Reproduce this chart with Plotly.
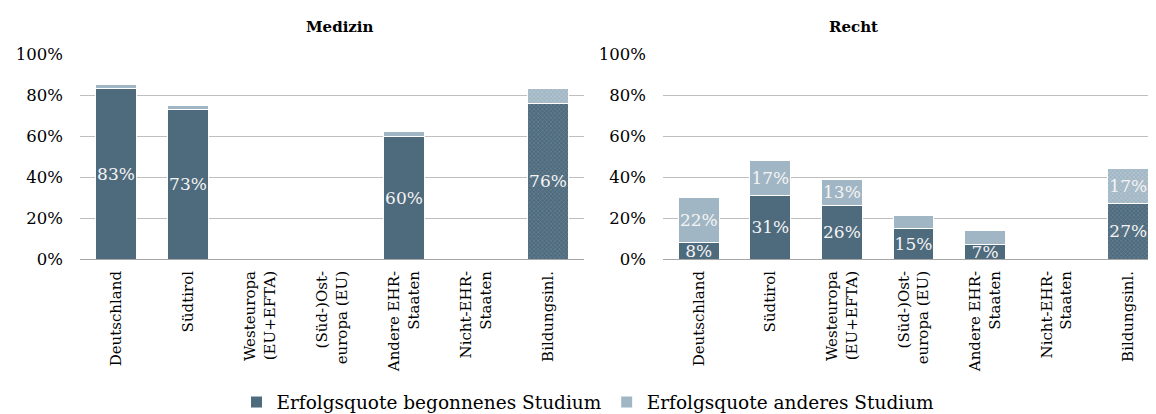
import plotly.graph_objects as go

categories = ["Deutschland", "Südtirol", "Westeuropa<br>(EU+EFTA)", "(Süd-)Ost-<br>europa (EU)",
              "Andere EHR-<br>Staaten", "Nicht-EHR-<br>Staaten", "Bildungsinl."]
med_begonnen = [83, 73, 0, 0, 60, 0, 76]
med_anderes = [2, 2, 0, 0, 2, 0, 7]
recht_begonnen = [8, 31, 26, 15, 7, 0, 27]
recht_anderes = [22, 17, 13, 6, 7, 0, 17]
med_beg_labels = ["83%", "73%", "", "", "60%", "", "76%"]
med_and_labels = ["", "", "", "", "", "", ""]
recht_beg_labels = ["8%", "31%", "26%", "15%", "7%", "", "27%"]
recht_and_labels = ["22%", "17%", "13%", "", "", "", "17%"]
y_ticks = [0, 20, 40, 60, 80, 100]

DARK = "#4e6a7d"
LIGHT = "#a1b6c4"
SERIF = "DejaVu Serif"
pattern_shapes = ["", "", "", "", "", "", "x"]

fig = go.Figure()

def add(vals, labels, color, fg, name, xa, ya, show):
    fig.add_trace(go.Bar(
        x=categories, y=vals, text=labels, name=name, xaxis=xa, yaxis=ya,
        showlegend=show, legendgroup=name,
        marker=dict(color=color, line=dict(color="white", width=1),
                    pattern=dict(shape=pattern_shapes, fgcolor=fg, size=3, solidity=0.35)),
        textposition="inside", insidetextanchor="middle", constraintext="none",
        textangle=0, cliponaxis=False,
        textfont=dict(family=SERIF, size=17, color="#f4f4f4"),
        hoverinfo="skip",
    ))

add(med_begonnen, med_beg_labels, DARK, "#8aa0ae", "Erfolgsquote begonnenes Studium", "x", "y", True)
add(med_anderes, med_and_labels, LIGHT, "#d8e2e8", "Erfolgsquote anderes Studium", "x", "y", True)
add(recht_begonnen, recht_beg_labels, DARK, "#8aa0ae", "Erfolgsquote begonnenes Studium", "x2", "y2", False)
add(recht_anderes, recht_and_labels, LIGHT, "#d8e2e8", "Erfolgsquote anderes Studium", "x2", "y2", False)

W, H = 1156, 414
L, R, T, B = 72, 0, 46, 158
pw = W - L - R
def px(a):
    return (a - L) / pw

xaxis_common = dict(type="category", tickangle=-90, showgrid=False, showline=False,
                    ticks="", ticklabelstandoff=8,
                    tickfont=dict(family=SERIF, size=15, color="black"))
yaxis_common = dict(range=[0, 100], tickvals=y_ticks, ticktext=[f"{v}%" for v in y_ticks],
                    showgrid=True, gridcolor="#bfbfbf", gridwidth=1, zeroline=True,
                    zerolinecolor="#a6a6a6", zerolinewidth=1, showline=False, ticks="",
                    ticklabelstandoff=16,
                    tickfont=dict(family=SERIF, size=16.5, color="black"))

fig.update_layout(
    width=W, height=H,
    margin=dict(l=L, r=R, t=T, b=B),
    barmode="stack", bargap=0.43,
    plot_bgcolor="white", paper_bgcolor="white",
    xaxis=dict(domain=[0, px(576)], anchor="y", **xaxis_common),
    xaxis2=dict(domain=[px(655), 1], anchor="y2", **xaxis_common),
    yaxis=dict(domain=[0, 1], anchor="x", **yaxis_common),
    yaxis2=dict(domain=[0, 1], anchor="x2", **yaxis_common),
    legend=dict(orientation="h", x=px(580), xanchor="center", y=-0.70, yanchor="middle",
                font=dict(family=SERIF, size=18.5, color="black"), itemwidth=30,
                traceorder="normal"),
    annotations=[
        dict(text="<b>Medizin</b>", x=px(296), y=1, xref="paper", yref="paper",
             yshift=27, yanchor="middle", showarrow=False,
             font=dict(family=SERIF, size=15, color="black")),
        dict(text="<b>Recht</b>", x=px(872), y=1, xref="paper", yref="paper",
             yshift=27, yanchor="middle", showarrow=False,
             font=dict(family=SERIF, size=15, color="black")),
    ],
)

fig.write_html("out.html")
